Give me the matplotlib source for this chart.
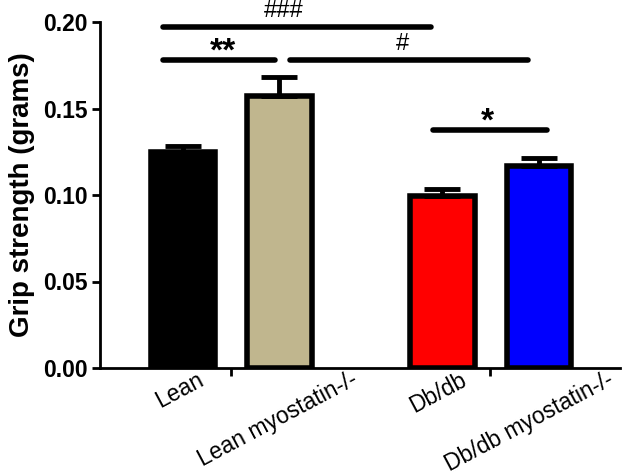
import matplotlib
matplotlib.use("Agg")
import matplotlib.pyplot as plt
from matplotlib import font_manager as fm
from matplotlib.transforms import ScaledTranslation
import os

categories = ["Lean", "Lean myostatin-/-", "Db/db", "Db/db myostatin-/-"]
means = [0.125, 0.157, 0.0995, 0.117]
sems = [0.0035, 0.011, 0.004, 0.0045]
colors = ["#000000", "#C0B68E", "#FF0000", "#0000FF"]
xpos = [0, 1, 2.69, 3.69]
yticks = [0.00, 0.05, 0.10, 0.15, 0.20]
ytick_labels = ["0.00", "0.05", "0.10", "0.15", "0.20"]

# significance annotations
sig_x0 = [-0.21, -0.21, 1.11, 2.59]
sig_x1 = [2.57, 0.95, 3.575, 3.77]
sig_y = [0.1971, 0.178, 0.178, 0.1376]
sig_labels = ["###", "**", "#", "*"]
sig_label_x = [1.04, 0.41, 2.28, 3.16]


def find_font(fname_key):
    for f in fm.findSystemFonts():
        if os.path.basename(f).lower() == fname_key.lower():
            return f
    return None

reg_path = find_font("LiberationSans-Regular.ttf")
bold_path = find_font("LiberationSans-Bold.ttf")


def fp(size, bold=False):
    path = bold_path if bold else reg_path
    if path:
        return fm.FontProperties(fname=path, size=size)
    return fm.FontProperties(family="DejaVu Sans", size=size,
                             weight="bold" if bold else "normal")

fig = plt.figure(figsize=(6.22, 4.76), dpi=100)
ax = fig.add_axes([100/622, 1-368/476, 520/622, 346/476])

ax.bar(xpos, means, width=0.67, color=colors, edgecolor="black", linewidth=4, zorder=2)
ax.errorbar(xpos, means, yerr=[[0]*4, sems], fmt="none", ecolor="black",
            elinewidth=3.5, capsize=13, capthick=3.5, zorder=3)

for x0, x1, y, lab, lx in zip(sig_x0, sig_x1, sig_y, sig_labels, sig_label_x):
    ax.plot([x0, x1], [y, y], color="black", lw=4, solid_capstyle="round", clip_on=False, zorder=4)
    if "*" in lab:
        ax.text(lx, y + 0.0045, lab, ha="center", va="center",
                fontproperties=fp(24, True), clip_on=False)
    else:
        ax.text(lx, y + 0.0090, lab, ha="center", va="center",
                fontproperties=fp(17), clip_on=False)

ax.set_xlim(-0.86, 4.53)
ax.set_ylim(0, 0.2)
ax.set_yticks(yticks)
ax.set_yticklabels(ytick_labels, fontproperties=fp(16.5, True))
ax.set_ylabel("Grip strength (grams)", fontproperties=fp(20, True), labelpad=6)

# category labels drawn as text so they can be nudged
ax.set_xticks([0.5, 3.18])
ax.set_xticklabels([])
ax.tick_params(axis="x", length=6, width=2)
label_shift_px = [-3, -2, -4, -10]
for x, lab, dx in zip(xpos, categories, label_shift_px):
    tr = ax.get_xaxis_transform() + ScaledTranslation(dx / 100, 0, fig.dpi_scale_trans)
    ax.text(x, 0, lab, transform=tr, rotation=28, ha="center", va="top",
            fontproperties=fp(16.5), clip_on=False)
ax.tick_params(axis="y", length=6, width=2, pad=3)

for s in ["top", "right"]:
    ax.spines[s].set_visible(False)
for s in ["left", "bottom"]:
    ax.spines[s].set_linewidth(2)

fig.savefig("out.png", dpi=100)
